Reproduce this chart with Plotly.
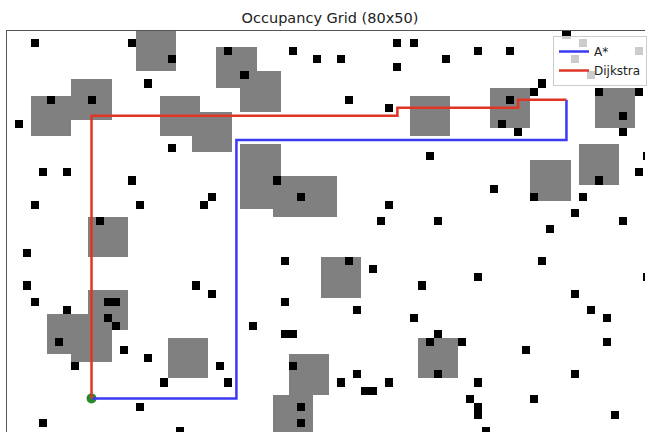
import numpy as np
import plotly.graph_objects as go

# Grid size
N_COLS, N_ROWS = 80, 50

# Inflated obstacle regions (gray): top-left cell and extent in cells
block_cols = [16, 26, 29, 8, 3, 19, 23, 29, 33, 50, 60, 73, 71, 65, 10, 39, 10, 5, 8, 20, 35, 33, 51]
block_rows = [0, 2, 5, 6, 8, 8, 10, 14, 18, 8, 7, 7, 14, 16, 23, 28, 32, 35, 36, 38, 40, 45, 38]
block_w = [5, 5, 5, 5, 5, 5, 5, 5, 8, 5, 5, 5, 5, 5, 5, 5, 5, 5, 5, 5, 5, 5, 5]
block_h = [5, 5, 5, 5, 5, 5, 5, 8, 5, 5, 5, 5, 5, 5, 5, 5, 5, 5, 5, 5, 5, 5, 5]

# Occupied single cells (black)
cell_cols = [3, 15, 20, 27, 29, 35, 38, 17, 5, 10, 1, 20,
             48, 50, 48, 41, 54, 58, 62, 69, 71, 78, 70, 72,
             66, 65, 62, 61, 63, 42, 47, 73, 78, 76, 76,
             4, 7, 15, 3, 16, 25, 24, 33, 36, 34, 11, 2, 2, 23, 25,
             52, 60, 47, 46, 53, 65, 73, 71, 70, 76, 78, 79, 67, 66, 79, 70, 42, 45, 58, 51,
             3, 12, 13, 7, 12, 13, 6, 8, 14, 17, 26, 19, 27, 16, 4, 21, 30, 34, 34, 35, 35, 36, 36,
             43, 50, 72, 74, 74, 53, 52, 56, 53, 64, 70, 43, 41, 44, 45, 47, 58, 57, 58, 58, 59, 65, 75]
cell_rows = [1, 1, 3, 2, 5, 2, 3, 6, 8, 8, 11, 14,
             1, 1, 4, 3, 3, 2, 2, 0, 1, 2, 3, 5,
             6, 7, 8, 11, 12, 8, 9, 7, 7, 10, 12,
             17, 17, 18, 21, 21, 20, 21, 18, 20, 28, 23, 27, 31, 31, 32,
             15, 19, 21, 23, 23, 20, 18, 20, 22, 23, 17, 15, 24, 28, 30, 32, 28, 29, 30, 31,
             33, 33, 33, 34, 35, 36, 38, 41, 39, 40, 41, 43, 43, 46, 48, 49, 36, 33, 37, 37, 41, 46, 48,
             34, 35, 34, 35, 38, 37, 38, 38, 42, 39, 42, 42, 43, 44, 44, 43, 43, 45, 46, 47, 49, 45, 47]

# Planned paths (waypoints in cell coordinates)
start = (10, 45)
astar_cols = [10, 28, 28, 69, 69]
astar_rows = [45, 45, 13, 13, 8]
dijkstra_cols = [10, 10, 48, 48, 63, 63, 69]
dijkstra_rows = [45, 10, 10, 9, 9, 8, 8]

# Build occupancy grid: 0 free, 0.5 inflated, 1 occupied
grid = np.zeros((N_ROWS, N_COLS))
for c, r, w, h in zip(block_cols, block_rows, block_w, block_h):
    grid[r:r + h, c:c + w] = 0.5
for c, r in zip(cell_cols, cell_rows):
    grid[r, c] = 1.0

fig = go.Figure()
fig.add_trace(go.Heatmap(
    z=grid, x=np.arange(N_COLS), y=np.arange(N_ROWS),
    zmin=0, zmax=1,
    colorscale=[[0, "#ffffff"], [0.5, "#808080"], [1, "#000000"]],
    showscale=False, hoverinfo="skip",
))
fig.add_trace(go.Scatter(
    x=[start[0]], y=[start[1]], mode="markers",
    marker=dict(color="#2a8a2a", size=10), showlegend=False, hoverinfo="skip",
))
fig.add_trace(go.Scatter(
    x=astar_cols, y=astar_rows, mode="lines", name="A*",
    line=dict(color="#3a3af2", width=2.5),
))
fig.add_trace(go.Scatter(
    x=dijkstra_cols, y=dijkstra_rows, mode="lines", name="Dijkstra",
    line=dict(color="#de3524", width=2.5),
))

W, H = 647, 432
L, T = 7, 31
cell = 8.075
x_hi = -0.5 + (W - L) / cell
y_hi = -0.5 + (H - T) / cell

fig.update_layout(
    width=W, height=H,
    margin=dict(l=L, r=0, t=T, b=0, pad=0),
    paper_bgcolor="white", plot_bgcolor="white",
    font=dict(family="DejaVu Sans", color="#222222"),
    title=dict(
        text="Occupancy Grid (80x50)",
        font=dict(size=14.5, color="#222222"),
        xref="container", x=330 / W, xanchor="center",
        yref="container", y=1 - 18 / H, yanchor="middle",
    ),
    xaxis=dict(
        range=[-0.5, x_hi], side="top", showgrid=False, zeroline=False,
        showticklabels=False, ticks="", showline=True, linecolor="#555555",
        linewidth=1.2, automargin=False,
    ),
    yaxis=dict(
        range=[y_hi, -0.5], showgrid=False, zeroline=False,
        showticklabels=False, ticks="", showline=True, linecolor="#555555",
        linewidth=1.2, automargin=False,
    ),
    legend=dict(
        x=(555 - L) / (W - L), y=1 - (36 - T) / (H - T),
        xanchor="left", yanchor="top",
        bgcolor="rgba(255,255,255,0.8)", bordercolor="#cccccc", borderwidth=1,
        font=dict(size=12, color="#222222"), itemwidth=30,
        tracegroupgap=0,
    ),
)

fig.write_html("out.html")
